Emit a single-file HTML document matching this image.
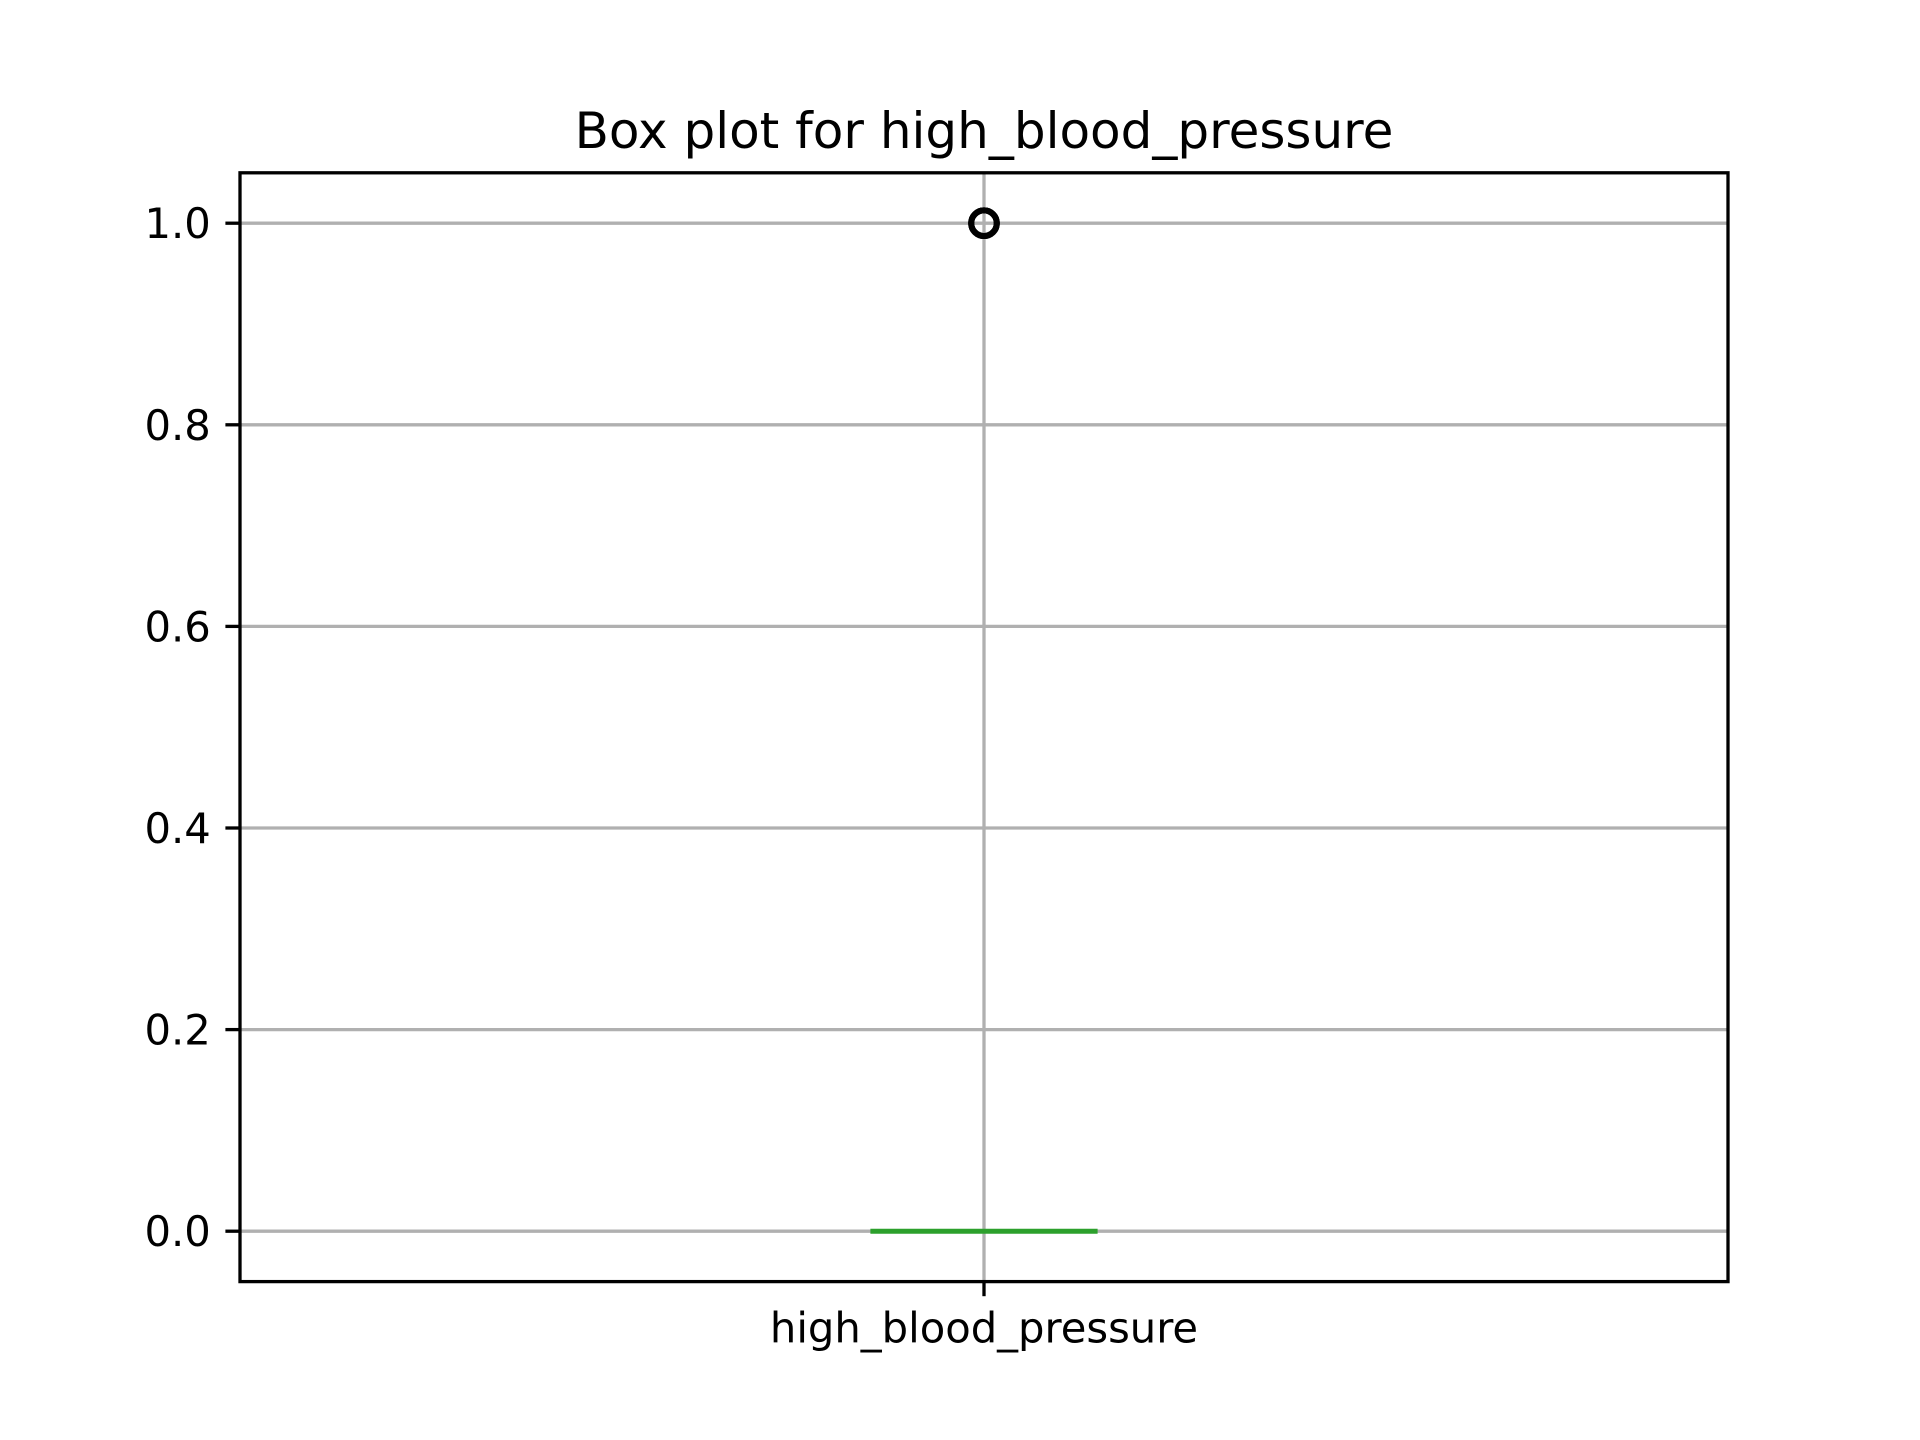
<!DOCTYPE html>
<html><head><meta charset="utf-8"><style>
html,body{margin:0;padding:0;background:#fff;}
svg{display:block;}
text{font-family:"DejaVu Sans","Liberation Sans",sans-serif;fill:#000;}
</style></head><body>
<svg id="chart" width="1920" height="1440" viewBox="0 0 1920 1440" xmlns="http://www.w3.org/2000/svg">
<rect x="0" y="0" width="1920" height="1440" fill="#fff"/>
<text x="984" y="148" font-size="50" text-anchor="middle">Box plot for high_blood_pressure</text>
<g id="plot"></g>
</svg>
<script>
const categories = ["high_blood_pressure"];
const q1Values = [0];
const medianValues = [0];
const q3Values = [0];
const whiskerLow = [0];
const whiskerHigh = [0];
const outlierValues = [[1, 1, 1]];
const yTicks = [0, 0.2, 0.4, 0.6, 0.8, 1.0];
const yTickLabels = ["0.0", "0.2", "0.4", "0.6", "0.8", "1.0"];

const L = 240, R = 1728, T = 172.8, B = 1281.6;
const yMin = -0.05, yMax = 1.05, xMin = 0.5, xMax = categories.length + 0.5;
const X = v => L + (v - xMin) / (xMax - xMin) * (R - L);
const Y = v => B - (v - yMin) / (yMax - yMin) * (B - T);
const NS = "http://www.w3.org/2000/svg";
const g = document.getElementById("plot");
function mk(tag, attrs, parent) {
  const e = document.createElementNS(NS, tag);
  for (const k in attrs) e.setAttribute(k, attrs[k]);
  (parent || g).appendChild(e);
  return e;
}
yTicks.forEach((t, i) => {
  const l = mk("line", {x1: L, x2: R, y1: Y(t), y2: Y(t), stroke: "#b0b0b0", "stroke-width": 3.3});
  
  
});
categories.forEach((c, i) => {
  const l = mk("line", {x1: X(i + 1), x2: X(i + 1), y1: T, y2: B, stroke: "#b0b0b0", "stroke-width": 3.3});
  
  
});
const w = 0.15;
categories.forEach((c, i) => {
  const p = i + 1;
  const bg = mk("g", {});
  
  
  const box = mk("rect", {x: X(p - w / 2), y: Y(q3Values[i]), width: X(p + w / 2) - X(p - w / 2), height: Math.max(0, Y(q1Values[i]) - Y(q3Values[i])), fill: "none", stroke: "#1f77b4", "stroke-width": 4.2}, bg);
  
  
  const wl = mk("line", {x1: X(p), x2: X(p), y1: Y(q1Values[i]), y2: Y(whiskerLow[i]), stroke: "#1f77b4", "stroke-width": 4.2}, bg);
  
  
  const wh = mk("line", {x1: X(p), x2: X(p), y1: Y(q3Values[i]), y2: Y(whiskerHigh[i]), stroke: "#1f77b4", "stroke-width": 4.2}, bg);
  
  
  const med = mk("line", {x1: X(p - w / 2) - 2, x2: X(p + w / 2) + 2, y1: Y(medianValues[i]), y2: Y(medianValues[i]), stroke: "#2ca02c", "stroke-width": 5}, bg);
  
  
  outlierValues[i].forEach(v => {
    const o = mk("circle", {cx: X(p), cy: Y(v), r: 12.8, fill: "none", stroke: "#000", "stroke-width": 6}, bg);
    
    
  });
  const tk = mk("line", {x1: X(p), x2: X(p), y1: B, y2: B + 14.6, stroke: "#000", "stroke-width": 3.3});
  
  
  const tl = mk("text", {x: X(p), y: B + 29 + 32, "font-size": 41.7, "text-anchor": "middle"});
  tl.textContent = c;
  
  
});
yTicks.forEach((t, i) => {
  const tk = mk("line", {x1: L - 14.6, x2: L, y1: Y(t), y2: Y(t), stroke: "#000", "stroke-width": 3.3});
  
  
  const tl = mk("text", {x: L - 29.2, y: Y(t) + 15, "font-size": 41.7, "text-anchor": "end"});
  tl.textContent = yTickLabels[i];
  
  
});
const frame = mk("rect", {x: L, y: T, width: R - L, height: B - T, fill: "none", stroke: "#000", "stroke-width": 3.3});


</script>
</body></html>
